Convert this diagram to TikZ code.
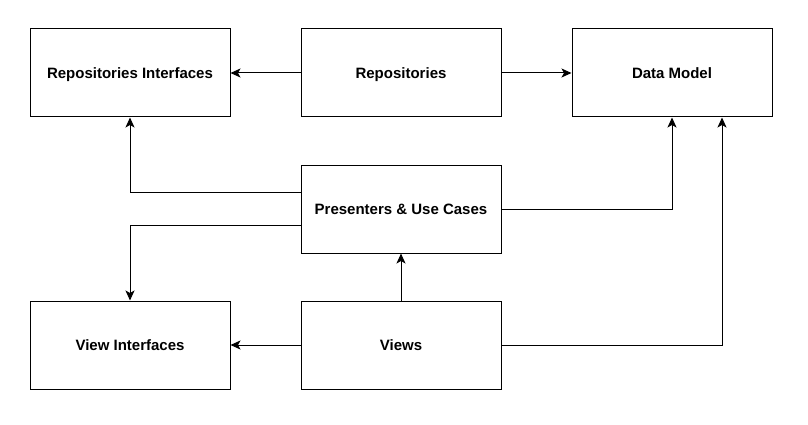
\documentclass[tikz,border=0pt]{standalone}
\usepackage{fontspec}
\setmainfont{Liberation Sans}
\usetikzlibrary{arrows.meta}
\begin{document}
\begin{tikzpicture}[x=1pt,y=-1pt,
  box/.style={draw,line width=1pt,minimum width=200pt,minimum height=88pt,inner sep=0pt,text height=10.7pt,text depth=0pt,font=\fontsize{15}{17}\selectfont\bfseries},
  conn/.style={draw,line width=1pt,-{Stealth[length=10pt,width=9pt,inset=2.5pt]}}]
\useasboundingbox (0,0) rectangle (808,425);
\node[box] (ri) at (130,73) {Repositories Interfaces};
\node[box] (rp) at (401,73) {Repositories};
\node[box] (dm) at (672,73) {Data Model};
\node[box] (pu) at (401,209) {Presenters \& Use Cases};
\node[box] (vi) at (130,345) {View Interfaces};
\node[box] (vw) at (401,345) {Views};
\draw[conn] (rp.west) -- (ri.east);
\draw[conn] (rp.east) -- (dm.west);
\draw[conn] ([yshift=17pt]pu.west) -| (ri.south);
\draw[conn] ([yshift=-16pt]pu.west) -| (vi.north);
\draw[conn] (pu.east) -| (dm.south);
\draw[conn] (vw.north) -- (pu.south);
\draw[conn] (vw.west) -- (vi.east);
\draw[conn] (vw.east) -| ([xshift=50pt]dm.south);
\end{tikzpicture}
\end{document}
